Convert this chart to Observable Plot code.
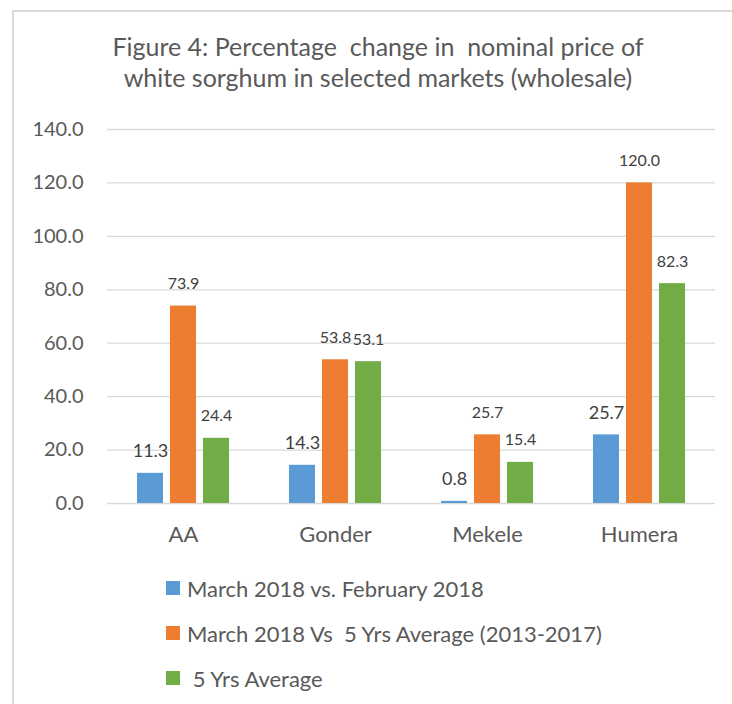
<!DOCTYPE html>
<html>
<head>
<meta charset="utf-8">
<script src="https://cdn.jsdelivr.net/npm/d3@7"></script>
<script src="https://cdn.jsdelivr.net/npm/@observablehq/plot@0.6"></script>
<style>
  html, body { margin: 0; padding: 0; background: #fff; overflow: hidden; width: 732px; height: 704px; }
  #frame { position: absolute; left: 12px; top: 10px; width: 740px; height: 720px; border: 2px solid #d9d9d9; box-sizing: border-box; }
  #title { position: absolute; left: 0; top: 31px; width: 756px; text-align: center; font-family: Lato, sans-serif; font-size: 25px; line-height: 31px; color: #595959; white-space: pre; }
  #chart { position: absolute; left: 0; top: 100px; }
  #legend { position: absolute; left: 166px; top: 0; font-family: Lato, sans-serif; font-size: 22px; color: #595959; }
  .row { position: absolute; left: 0; height: 30px; display: flex; align-items: center; white-space: pre; }
  .sw { width: 14px; height: 14px; margin-right: 7px; flex: none; }
</style>
</head>
<body>
<div id="frame"></div>
<div id="title">Figure 4: Percentage  change in  nominal price of
white sorghum in selected markets (wholesale)</div>
<div id="chart"></div>
<div id="legend"></div>
<script>
const markets = ["AA", "Gonder", "Mekele", "Humera"];
const seriesNames = ["March 2018 vs. February 2018", "March 2018 Vs  5 Yrs Average (2013-2017)", " 5 Yrs Average"];
const marVsFeb = [11.3, 14.3, 0.8, 25.7];
const marVs5yr = [73.9, 53.8, 25.7, 120.0];
const fiveYrAvg = [24.4, 53.1, 15.4, 82.3];
const yTicks = [0, 20, 40, 60, 80, 100, 120, 140];
const colors = ["#5b9bd5", "#ed7d31", "#70ad47"];

const seriesValues = [marVsFeb, marVs5yr, fiveYrAvg];
const data = markets.flatMap((m, i) => seriesNames.map((s, j) => ({market: m, series: s, value: seriesValues[j][i]})));

const chart = Plot.plot({
  width: 732,
  height: 460,
  marginLeft: 107,
  marginRight: 17,
  marginTop: 29,
  marginBottom: 57,
  style: {fontFamily: "Lato, sans-serif", color: "#595959", background: "transparent", overflow: "visible"},
  fx: {domain: markets, padding: 0, label: null},
  x: {domain: seriesNames, paddingInner: 0.212, paddingOuter: 0.909, axis: null},
  y: {domain: [0, 140], axis: null},
  color: {domain: seriesNames, range: colors},
  marks: [
    Plot.ruleY(yTicks, {stroke: "#d9d9d9", strokeWidth: 1.3}),
    Plot.barY(data, {fx: "market", x: "series", y: "value", fill: "series"}),
    Plot.text(data, {
      fx: "market", x: "series", y: "value",
      text: d => d.value.toFixed(1),
      dy: -22,
      fontSize: d => d.series === seriesNames[0] ? 18 : 16,
      fill: "#404040"
    }),
    Plot.axisY({ticks: yTicks, tickFormat: d => d.toFixed(1), tickSize: 0, tickPadding: 24, fontSize: 20, label: null}),
    Plot.axisFx({anchor: "bottom", tickSize: 0, tickPadding: 23, fontSize: 22, label: null})
  ]
});
document.getElementById("chart").appendChild(chart);

const legend = document.getElementById("legend");
const rowCenters = [588, 633, 678];
seriesNames.forEach((s, i) => {
  const row = document.createElement("div");
  row.className = "row";
  row.style.top = (rowCenters[i] - 15) + "px";
  const sw = document.createElement("div");
  sw.className = "sw";
  sw.style.background = colors[i];
  const label = document.createElement("span");
  label.textContent = s;
  row.appendChild(sw);
  row.appendChild(label);
  legend.appendChild(row);
});
</script>
</body>
</html>
